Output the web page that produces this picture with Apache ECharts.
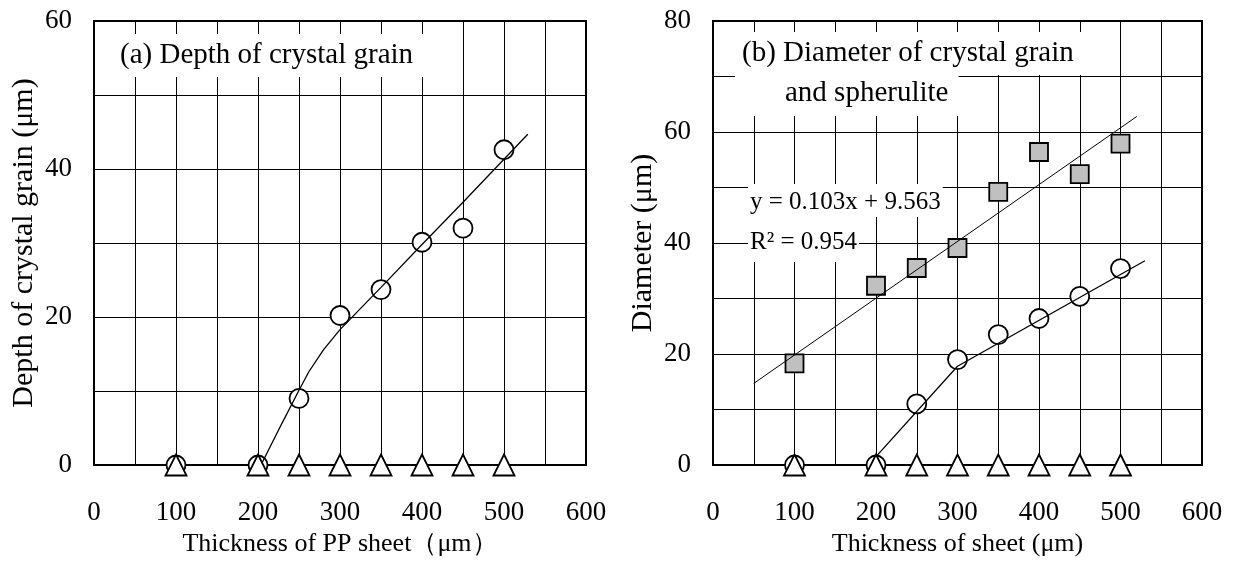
<!DOCTYPE html>
<html>
<head>
<meta charset="utf-8">
<script src="https://cdn.jsdelivr.net/npm/echarts@6/dist/echarts.min.js"></script>
<style>
  html, body { margin: 0; padding: 0; background: #fff; }
  #main { width: 1237px; height: 564px; }
</style>
</head>
<body>
<div id="main"></div>
<script>
// thickness of sheet (um)
var thickness = [100, 200, 250, 300, 350, 400, 450, 500];

// (a) depth of crystal grain
var depthGrain = [0, 0, 9.0, 20.2, 23.7, 30.1, 32.0, 42.6];
var depthTri = [0, 0, 0, 0, 0, 0, 0, 0];
var depthFitX = [205, 230, 250, 262, 280, 300, 350, 400, 450, 529];
var depthFitY = [0.3, 5.8, 10.1, 12.6, 15.6, 18.3, 24.0, 29.8, 35.5, 44.7];

// (b) diameter of crystal grain and spherulite
var diamSpherulite = [18.3, 32.3, 35.5, 39.1, 49.2, 56.4, 52.4, 57.9];
var diamGrain = [0, 0, 11.0, 19.0, 23.5, 26.4, 30.4, 35.4];
var diamTri = [0, 0, 0, 0, 0, 0, 0, 0];
var grainFitX = [200, 300, 530];
var grainFitY = [1.5, 17.8, 36.8];
var regX = [50, 520];
var regY = [14.7, 62.8];

// axis ticks
var xTicks = [0, 100, 200, 300, 400, 500, 600];
var yTicksA = [0, 20, 40, 60];
var yTicksB = [0, 20, 40, 60, 80];

var FONT = '"Liberation Serif", "Times New Roman", serif';

function pairs(xs, ys) {
  var out = [];
  for (var i = 0; i < xs.length; i++) out.push([xs[i], ys[i]]);
  return out;
}

function xAxisCfg(idx, title) {
  return {
    type: "value",
    gridIndex: idx,
    min: xTicks[0],
    max: xTicks[xTicks.length - 1],
    interval: xTicks[1] - xTicks[0],
    name: title,
    nameLocation: "middle",
    nameGap: 61,
    nameTextStyle: { fontFamily: FONT, fontSize: 26, color: "#000" },
    axisLine: { show: false },
    axisTick: { show: false },
    axisLabel: { margin: 34, fontFamily: FONT, fontSize: 27, color: "#000" },
    splitLine: { show: true, lineStyle: { color: "#000", width: 1 } },
    minorTick: { show: false, splitNumber: 2 },
    minorSplitLine: { show: true, lineStyle: { color: "#000", width: 1 } },
  };
}

function yAxisCfg(idx, ticks, title) {
  return {
    type: "value",
    gridIndex: idx,
    min: ticks[0],
    max: ticks[ticks.length - 1],
    interval: ticks[1] - ticks[0],
    name: title,
    nameLocation: "middle",
    nameGap: 55,
    nameTextStyle: { fontFamily: FONT, fontSize: 30, color: "#000" },
    axisLine: { show: false },
    axisTick: { show: false },
    axisLabel: { margin: 22, fontFamily: FONT, fontSize: 27, color: "#000" },
    splitLine: { show: true, lineStyle: { color: "#000", width: 1 } },
    minorTick: { show: false, splitNumber: 2 },
    minorSplitLine: { show: true, lineStyle: { color: "#000", width: 1 } },
  };
}

function markers(idx, ys, symbol, size, fill, z) {
  return {
    type: "scatter",
    xAxisIndex: idx,
    yAxisIndex: idx,
    symbol: symbol,
    symbolSize: size,
    clip: false,
    z: z,
    itemStyle: { color: fill, borderColor: "#000", borderWidth: 1.8, opacity: 1 },
    data: pairs(thickness, ys),
  };
}

function fitLine(idx, xs, ys, w) {
  return {
    type: "line",
    xAxisIndex: idx,
    yAxisIndex: idx,
    showSymbol: false,
    symbol: "none",
    clip: false,
    z: 5,
    lineStyle: { color: "#000", width: w },
    data: pairs(xs, ys),
  };
}

function box(x, y, text, size, pad) {
  return {
    type: "text",
    x: x,
    y: y,
    z: 100,
    style: {
      text: text,
      font: size + "px " + FONT,
      fill: "#000",
      lineHeight: size,
      backgroundColor: "#fff",
      padding: pad,
      align: "left",
      verticalAlign: "top",
    },
  };
}

var myChart = echarts.init(document.getElementById("main"), null, { renderer: "canvas" });

var option = {
  backgroundColor: "#fff",
  animation: false,
  grid: [
    { left: 94, top: 21, width: 492, height: 444, show: true, borderColor: "#000", borderWidth: 2, backgroundColor: "#fff" },
    { left: 713, top: 21, width: 489, height: 444, show: true, borderColor: "#000", borderWidth: 2, backgroundColor: "#fff" },
  ],
  xAxis: [
    xAxisCfg(0, "Thickness of PP sheet（μm）"),
    xAxisCfg(1, "Thickness of sheet (μm)"),
  ],
  yAxis: [
    yAxisCfg(0, yTicksA, "Depth of crystal grain (μm)"),
    yAxisCfg(1, yTicksB, "Diameter (μm)"),
  ],
  series: [
    markers(0, depthGrain, "circle", 19, "#fff", 2),
    markers(0, depthTri, "triangle", 21, "#fff", 3),
    fitLine(0, depthFitX, depthFitY, 1.3),

    markers(1, diamSpherulite, "rect", 18, "#c0c0c0", 2),
    markers(1, diamGrain, "circle", 19, "#fff", 2),
    markers(1, diamTri, "triangle", 21, "#fff", 3),
    fitLine(1, regX, regY, 1),
    fitLine(1, grainFitX, grainFitY, 1.3),
  ],
  graphic: [
    box(100, 34, "(a) Depth of crystal grain", 29, [7, 17, 7, 20]),
    box(735, 32, "(b) Diameter of crystal grain", 29, [7, 45, 7, 7]),
    box(735, 75, "and spherulite", 29, [4, 10, 8, 50]),
    box(748, 184, "y = 0.103x + 9.563", 25, [6, 2, 2, 2]),
    box(748, 217, "R² = 0.954", 25, [13, 2, 7, 2]),
  ],
};

option && myChart.setOption(option);
</script>
</body>
</html>
